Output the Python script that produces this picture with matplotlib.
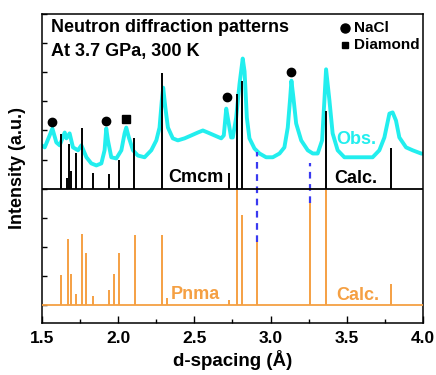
import numpy as np
import matplotlib
matplotlib.use('Agg')
import matplotlib.pyplot as plt
from matplotlib.ticker import MultipleLocator

plt.rcParams['font.family'] = ['Liberation Sans', 'DejaVu Sans']
plt.rcParams['font.weight'] = 'bold'

obs_d = [1.500, 1.520, 1.552, 1.570, 1.596, 1.618, 1.651, 1.662, 1.683, 1.705,
         1.738, 1.760, 1.793, 1.825, 1.858, 1.891, 1.912, 1.923, 1.934, 1.956,
         1.989, 2.022, 2.043, 2.054, 2.071, 2.098, 2.130, 2.174, 2.218, 2.251,
         2.272, 2.287, 2.296, 2.310, 2.327, 2.359, 2.392, 2.436, 2.480, 2.523,
         2.556, 2.588, 2.632, 2.676, 2.693, 2.709, 2.719, 2.741, 2.752, 2.774,
         2.796, 2.817, 2.829, 2.844, 2.861, 2.894, 2.927, 2.970, 3.014, 3.058,
         3.090, 3.112, 3.128, 3.136, 3.149, 3.167, 3.200, 3.243, 3.276, 3.308,
         3.337, 3.352, 3.363, 3.385, 3.406, 3.439, 3.483, 3.548, 3.614, 3.668,
         3.712, 3.745, 3.778, 3.799, 3.821, 3.843, 3.887, 3.930, 3.985, 4.000]
obs_i = [5.49, 5.42, 5.83, 6.07, 5.59, 5.49, 5.93, 5.73, 5.90, 5.42,
         5.32, 5.49, 5.08, 4.87, 4.80, 4.87, 5.32, 6.07, 5.66, 5.08,
         5.04, 5.32, 5.90, 6.10, 5.76, 5.32, 5.14, 5.08, 5.32, 5.66,
         6.10, 7.03, 7.47, 6.79, 6.10, 5.73, 5.66, 5.73, 5.83, 5.93,
         6.00, 5.93, 5.83, 5.73, 5.83, 6.75, 6.44, 5.76, 5.76, 6.44,
         7.60, 8.47, 8.03, 6.44, 5.73, 5.38, 5.21, 5.08, 5.08, 5.21,
         5.42, 6.10, 7.13, 7.71, 7.13, 6.24, 5.66, 5.32, 5.21, 5.21,
         5.66, 7.03, 8.10, 7.03, 5.90, 5.32, 5.08, 5.08, 5.08, 5.08,
         5.32, 5.76, 6.58, 6.62, 6.34, 5.76, 5.42, 5.32, 5.21, 5.20]

# calculated Cmcm reflections
cmcm_d = [1.627, 1.664, 1.677, 1.693, 1.722, 1.764, 1.836, 1.940, 2.008, 2.107,
          2.290, 2.726, 2.778, 2.813, 3.363, 3.790]
cmcm_h = [1.87, 0.37, 1.52, 0.60, 1.22, 2.10, 0.54, 0.50, 1.00, 1.75,
          3.97, 0.55, 3.25, 3.70, 2.67, 1.40]
cmcm_base = 4.0

# calculated Pnma reflections
pnma_d = [1.629, 1.672, 1.694, 1.722, 1.764, 1.788, 1.838, 1.940, 1.976, 2.006,
          2.109, 2.287, 2.320, 2.726, 2.778, 2.813, 2.911, 3.258, 3.363, 3.790]
pnma_h = [1.03, 2.26, 1.06, 0.38, 2.43, 1.78, 0.31, 0.51, 1.06, 1.79,
          2.40, 2.40, 0.24, 0.17, 3.95, 3.10, 2.17, 3.50, 3.97, 0.74]

# extra Pnma peaks marked with dashed lines
dash_d = [2.911, 3.258]
dash_lo = [2.16, 3.50]
dash_hi = [5.25, 4.90]

nacl_d = [1.565, 1.923, 2.713, 3.134]
nacl_y = [6.28, 6.34, 7.16, 8.02]
diam_d = [2.054]
diam_y = [6.38]

cyan = '#22eeee'
orange = '#f5a043'

fig = plt.figure(figsize=(4.36, 3.75), dpi=100)
ax = fig.add_axes([0.0956, 0.1395, 0.8753, 0.8232])

ax.plot(obs_d, obs_i, color=cyan, lw=2.8, solid_joinstyle='round', zorder=2)

ax.hlines(0, 1.5, 4.0, color=orange, lw=1.3, zorder=3)
ax.vlines(pnma_d, 0, pnma_h, color=orange, lw=1.4, zorder=3)

ax.hlines(cmcm_base, 1.5, 4.0, color='black', lw=1.3, zorder=4)
ax.vlines(cmcm_d, cmcm_base, np.array(cmcm_h) + cmcm_base, color='black', lw=1.4, zorder=4)

ax.vlines(dash_d, dash_lo, dash_hi, color='#3a3af0', lw=1.6, linestyles=(0, (3, 2.5)), zorder=3)

ax.plot(nacl_d, nacl_y, 'o', color='black', ms=6, zorder=5)
ax.plot(diam_d, diam_y, 's', color='black', ms=5.5, zorder=5)

# legend for markers
ax.plot([0.794], [0.955], 'o', color='black', ms=6.5, transform=ax.transAxes, clip_on=False)
ax.text(0.818, 0.955, 'NaCl', transform=ax.transAxes, fontsize=11, va='center', ha='left')
ax.plot([0.794], [0.9], 's', color='black', ms=5, transform=ax.transAxes, clip_on=False)
ax.text(0.818, 0.9, 'Diamond', transform=ax.transAxes, fontsize=11, va='center', ha='left')

ax.text(0.025, 0.955, 'Neutron diffraction patterns', transform=ax.transAxes,
        fontsize=13, va='center', ha='left')
ax.text(0.025, 0.88, 'At 3.7 GPa, 300 K', transform=ax.transAxes,
        fontsize=13, va='center', ha='left')

ax.text(2.51, 4.4, 'Cmcm', fontsize=13, ha='center', va='center')
ax.text(3.555, 4.35, 'Calc.', fontsize=13, ha='center', va='center')
ax.text(3.56, 5.7, 'Obs.', fontsize=13, ha='center', va='center', color=cyan)
ax.text(2.51, 0.37, 'Pnma', fontsize=13, ha='center', va='center', color=orange)
ax.text(3.57, 0.33, 'Calc.', fontsize=13, ha='center', va='center', color=orange)

ax.set_xlim(1.5, 4.0)
ax.set_ylim(-0.6, 10.0)
ax.xaxis.set_major_locator(MultipleLocator(0.5))
ax.xaxis.set_minor_locator(MultipleLocator(0.25))
ax.yaxis.set_major_locator(MultipleLocator(1))
ax.set_yticklabels([])
ax.tick_params(axis='x', which='major', direction='in', length=5, width=1, labelsize=12.5, pad=6)
ax.tick_params(axis='x', which='minor', direction='in', length=3, width=1)
ax.tick_params(axis='y', direction='in', length=3.5, width=1)
for lab in ax.get_xticklabels():
    lab.set_fontweight('bold')
for s in ax.spines.values():
    s.set_linewidth(1.1)

ax.set_xlabel('d-spacing (Å)', fontsize=13.5, fontweight='bold', labelpad=3)
ax.set_ylabel('Intensity (a.u.)', fontsize=13, fontweight='bold', labelpad=8)

fig.savefig('out.png', dpi=100)
